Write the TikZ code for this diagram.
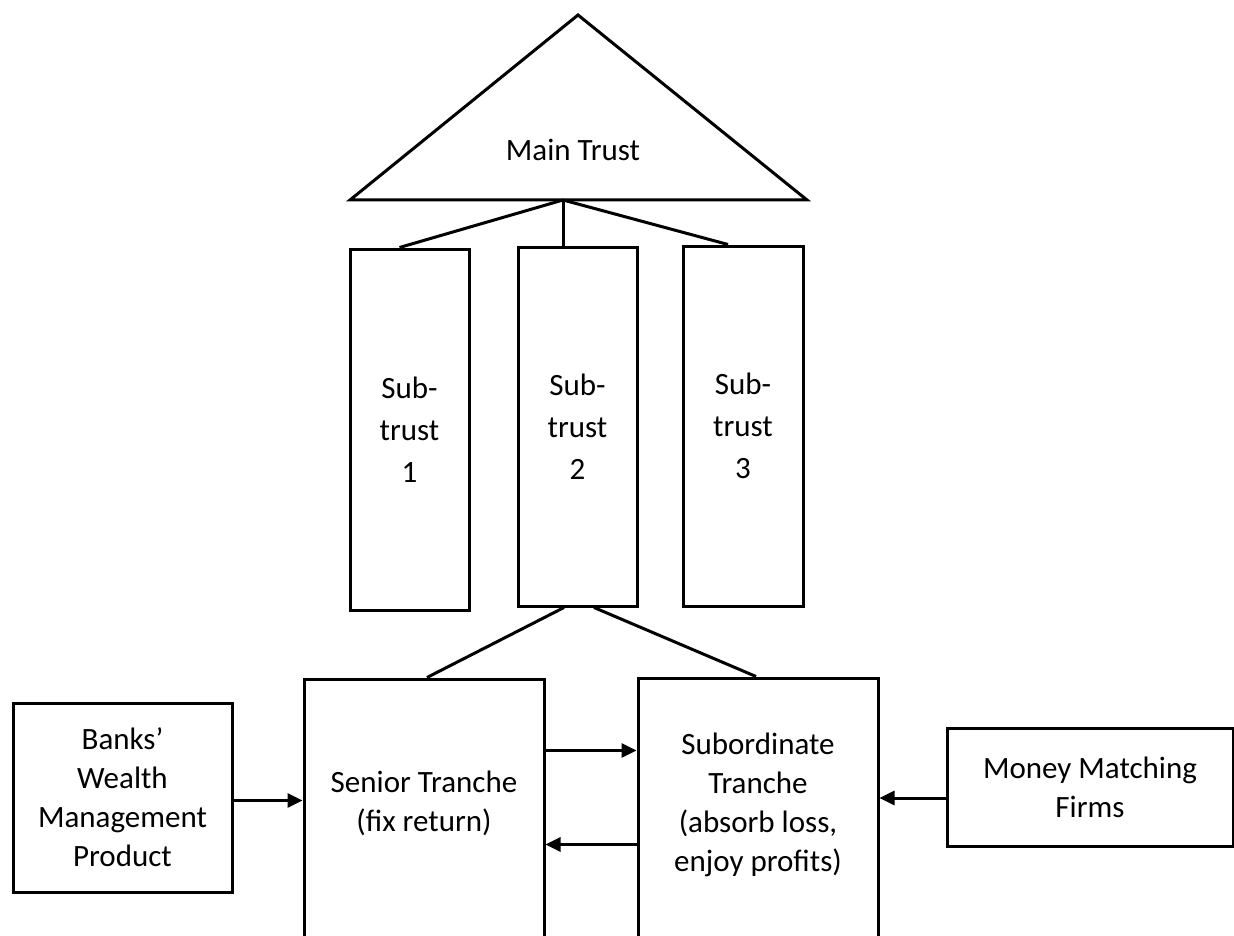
\documentclass[tikz,border=0pt]{standalone}
\usepackage{fontspec}
\setmainfont{Carlito}
\usetikzlibrary{arrows.meta}

\tikzset{
	box/.style={draw, rectangle, line width=3pt, inner sep=0pt, align=center,
		font=\fontsize{31}{42}\selectfont},
	lbl/.style={align=center, font=\fontsize{31}{39}\selectfont},
	link/.style={line width=3pt},
	arr/.style={line width=3pt, -{Triangle[length=15pt,width=14pt]}}
}

\begin{document}
\begin{tikzpicture}[x=1pt,y=-1pt]
	\clip (0,0) rectangle (1234,936);
	
	% main trust
	\coordinate (apex) at (578,15);
	\coordinate (baseL) at (350,200);
	\coordinate (baseR) at (807,200);
	\draw[line width=3pt] (apex) -- (baseR) -- (baseL) -- cycle;
	\node[lbl] (main) at (573,150) {Main Trust};
	\coordinate (hub) at (563,200);
	
	% sub-trusts
	\node[box, minimum width=119pt, minimum height=361pt] (sub1) at (409.5,429.5) {Sub-\\trust\\1};
	\node[box, minimum width=119pt, minimum height=359pt] (sub2) at (577.5,426.5) {Sub-\\trust\\2};
	\node[box, minimum width=120pt, minimum height=360pt] (sub3) at (743,426) {Sub-\\trust\\3};
	\draw[link] (hub) -- ([xshift=-10pt]sub1.north);
	\draw[link] (hub) -- (hub |- sub2.north);
	\draw[link] (hub) -- ([xshift=-15pt]sub3.north);
	
	% tranches
	\node[box, minimum width=240pt, minimum height=281pt] (senior) at (424,819.5) {};
	\node[lbl] (seniorlbl) at (424,803) {Senior Tranche\\(fix return)};
	\node[box, minimum width=240pt, minimum height=282pt] (subord) at (758,819) {};
	\node[lbl] (subordlbl) at (758,805) {Subordinate\\Tranche\\(absorb loss,\\enjoy profits)};
	\draw[link] ([xshift=-13.5pt]sub2.south) -- ([xshift=3pt]senior.north);
	\draw[link] ([xshift=16.5pt]sub2.south) -- ([xshift=-2pt]subord.north);
	
	% outside parties
	\node[box, minimum width=219pt, minimum height=189pt, font=\fontsize{31}{39}\selectfont] (banks) at (122.5,797.5) {Banks’\\Wealth\\Management\\Product};
	\node[box, minimum width=286pt, minimum height=118pt, font=\fontsize{31}{39}\selectfont] (money) at (1090,787) {Money Matching\\Firms};
	
	% flows
	\draw[arr] ([yshift=-73pt]senior.north east) -- ([yshift=-73pt]senior.north east -| subord.west);
	\draw[arr] ([yshift=-168pt]subord.north west) -- ([yshift=-168pt]subord.north west -| senior.east);
	\draw[arr] ([yshift=-3pt]banks.east) -- ([yshift=-3pt]banks.east -| senior.west);
	\draw[arr] ([yshift=-11pt]money.west) -- ([yshift=-11pt]money.west -| subord.east);
\end{tikzpicture}
\end{document}
